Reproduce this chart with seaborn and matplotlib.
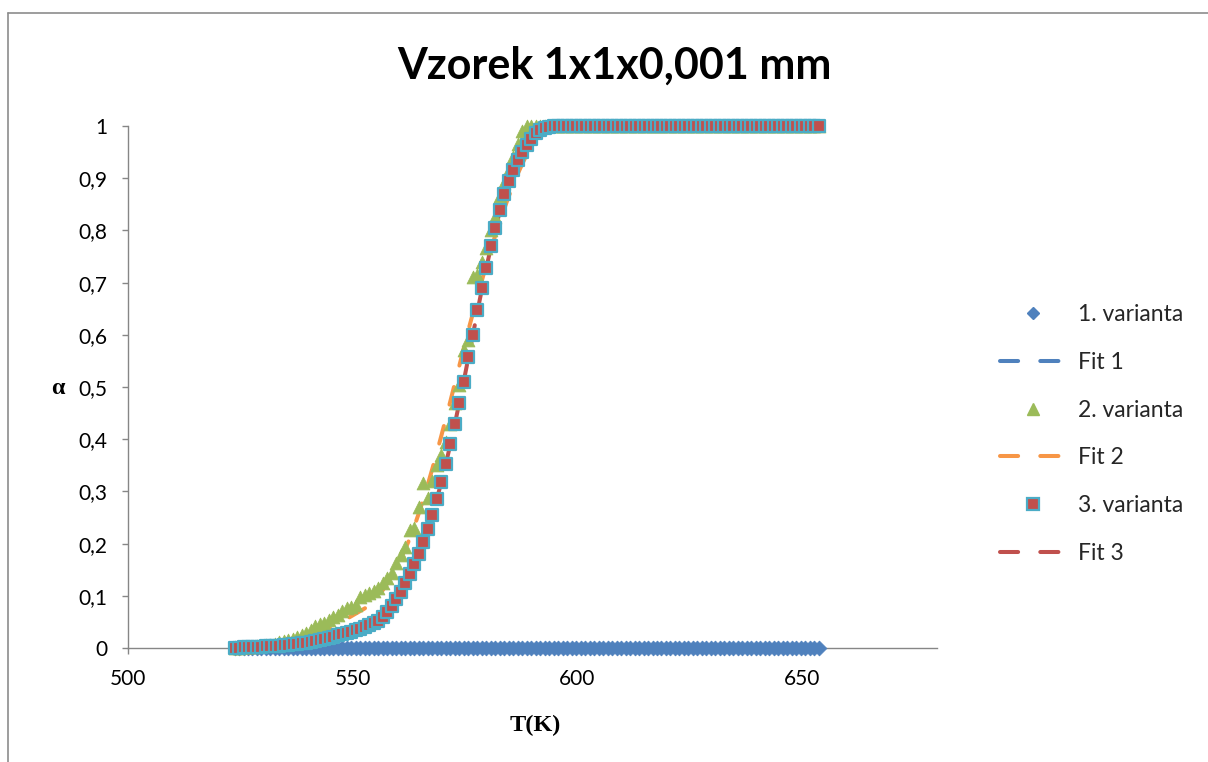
import matplotlib
matplotlib.use("Agg")
import matplotlib.pyplot as plt
from matplotlib.lines import Line2D
from matplotlib.ticker import FuncFormatter
import pandas as pd
import seaborn as sns

# ---------------- data ----------------
T_K = [
    523.7, 524.7, 525.7, 526.7, 527.7, 528.7, 529.7, 530.7, 531.7, 532.7,
    533.7, 534.7, 535.7, 536.7, 537.7, 538.7, 539.7, 540.7, 541.7, 542.7,
    543.7, 544.7, 545.7, 546.7, 547.7, 548.7, 549.7, 550.7, 551.7, 552.7,
    553.7, 554.7, 555.7, 556.7, 557.7, 558.7, 559.7, 560.7, 561.7, 562.7,
    563.7, 564.7, 565.7, 566.7, 567.7, 568.7, 569.7, 570.7, 571.7, 572.7,
    573.7, 574.7, 575.7, 576.7, 577.7, 578.7, 579.7, 580.7, 581.7, 582.7,
    583.7, 584.7, 585.7, 586.7, 587.7, 588.7, 589.7, 590.7, 591.7, 592.7,
    593.7, 594.7, 595.7, 596.7, 597.7, 598.7, 599.7, 600.7, 601.7, 602.7,
    603.7, 604.7, 605.7, 606.7, 607.7, 608.7, 609.7, 610.7, 611.7, 612.7,
    613.7, 614.7, 615.7, 616.7, 617.7, 618.7, 619.7, 620.7, 621.7, 622.7,
    623.7, 624.7, 625.7, 626.7, 627.7, 628.7, 629.7, 630.7, 631.7, 632.7,
    633.7, 634.7, 635.7, 636.7, 637.7, 638.7, 639.7, 640.7, 641.7, 642.7,
    643.7, 644.7, 645.7, 646.7, 647.7, 648.7, 649.7, 650.7, 651.7, 652.7,
    653.7,
]

alpha_var1 = [
    0, 0, 0, 0, 0, 0, 0, 0, 0, 0,
    0, 0, 0, 0, 0, 0, 0, 0, 0, 0,
    0, 0, 0, 0, 0, 0, 0, 0, 0, 0,
    0, 0, 0, 0, 0, 0, 0, 0, 0, 0,
    0, 0, 0, 0, 0, 0, 0, 0, 0, 0,
    0, 0, 0, 0, 0, 0, 0, 0, 0, 0,
    0, 0, 0, 0, 0, 0, 0, 0, 0, 0,
    0, 0, 0, 0, 0, 0, 0, 0, 0, 0,
    0, 0, 0, 0, 0, 0, 0, 0, 0, 0,
    0, 0, 0, 0, 0, 0, 0, 0, 0, 0,
    0, 0, 0, 0, 0, 0, 0, 0, 0, 0,
    0, 0, 0, 0, 0, 0, 0, 0, 0, 0,
    0, 0, 0, 0, 0, 0, 0, 0, 0, 0,
    0,
]

fit_1 = [
    0, 0, 0, 0, 0, 0, 0, 0, 0, 0,
    0, 0, 0, 0, 0, 0, 0, 0, 0, 0,
    0, 0, 0, 0, 0, 0, 0, 0, 0, 0,
    0, 0, 0, 0, 0, 0, 0, 0, 0, 0,
    0, 0, 0, 0, 0, 0, 0, 0, 0, 0,
    0, 0, 0, 0, 0, 0, 0, 0, 0, 0,
    0, 0, 0, 0, 0, 0, 0, 0, 0, 0,
    0, 0, 0, 0, 0, 0, 0, 0, 0, 0,
    0, 0, 0, 0, 0, 0, 0, 0, 0, 0,
    0, 0, 0, 0, 0, 0, 0, 0, 0, 0,
    0, 0, 0, 0, 0, 0, 0, 0, 0, 0,
    0, 0, 0, 0, 0, 0, 0, 0, 0, 0,
    0, 0, 0, 0, 0, 0, 0, 0, 0, 0,
    0,
]

alpha_var2 = [
    0.000, 0.000, 0.001, 0.001, 0.002, 0.003, 0.004, 0.005, 0.006, 0.008,
    0.011, 0.013, 0.015, 0.018, 0.021, 0.024, 0.028, 0.034, 0.042, 0.046,
    0.048, 0.054, 0.060, 0.064, 0.070, 0.076, 0.078, 0.082, 0.098, 0.101,
    0.105, 0.110, 0.114, 0.124, 0.134, 0.143, 0.162, 0.178, 0.194, 0.226,
    0.230, 0.271, 0.316, 0.287, 0.320, 0.351, 0.370, 0.395, 0.430, 0.469,
    0.504, 0.571, 0.590, 0.710, 0.715, 0.740, 0.766, 0.800, 0.826, 0.865,
    0.890, 0.915, 0.940, 0.965, 0.990, 1.000, 1.000, 1.000, 1.000, 1.000,
    1.000, 1.000, 1.000, 1.000, 1.000, 1.000, 1.000, 1.000, 1.000, 1.000,
    1.000, 1.000, 1.000, 1.000, 1.000, 1.000, 1.000, 1.000, 1.000, 1.000,
    1.000, 1.000, 1.000, 1.000, 1.000, 1.000, 1.000, 1.000, 1.000, 1.000,
    1.000, 1.000, 1.000, 1.000, 1.000, 1.000, 1.000, 1.000, 1.000, 1.000,
    1.000, 1.000, 1.000, 1.000, 1.000, 1.000, 1.000, 1.000, 1.000, 1.000,
    1.000, 1.000, 1.000, 1.000, 1.000, 1.000, 1.000, 1.000, 1.000, 1.000,
    1.000,
]

fit_2 = [
    0.000, 0.000, 0.001, 0.001, 0.002, 0.002, 0.003, 0.004, 0.005, 0.006,
    0.007, 0.009, 0.010, 0.012, 0.014, 0.016, 0.018, 0.021, 0.024, 0.027,
    0.031, 0.036, 0.041, 0.046, 0.051, 0.056, 0.061, 0.066, 0.071, 0.076,
    0.083, 0.091, 0.100, 0.111, 0.124, 0.139, 0.155, 0.172, 0.190, 0.210,
    0.233, 0.258, 0.285, 0.313, 0.343, 0.374, 0.406, 0.439, 0.472, 0.506,
    0.540, 0.574, 0.608, 0.640, 0.672, 0.703, 0.733, 0.762, 0.790, 0.816,
    0.841, 0.865, 0.887, 0.908, 0.927, 0.945, 0.961, 0.975, 0.986, 0.994,
    0.998, 1.000, 1.000, 1.000, 1.000, 1.000, 1.000, 1.000, 1.000, 1.000,
    1.000, 1.000, 1.000, 1.000, 1.000, 1.000, 1.000, 1.000, 1.000, 1.000,
    1.000, 1.000, 1.000, 1.000, 1.000, 1.000, 1.000, 1.000, 1.000, 1.000,
    1.000, 1.000, 1.000, 1.000, 1.000, 1.000, 1.000, 1.000, 1.000, 1.000,
    1.000, 1.000, 1.000, 1.000, 1.000, 1.000, 1.000, 1.000, 1.000, 1.000,
    1.000, 1.000, 1.000, 1.000, 1.000, 1.000, 1.000, 1.000, 1.000, 1.000,
    1.000,
]

alpha_var3 = [
    0.000, 0.000, 0.001, 0.001, 0.001, 0.002, 0.002, 0.003, 0.003, 0.004,
    0.004, 0.005, 0.006, 0.007, 0.008, 0.009, 0.010, 0.012, 0.013, 0.015,
    0.017, 0.019, 0.022, 0.024, 0.026, 0.028, 0.031, 0.034, 0.037, 0.040,
    0.044, 0.047, 0.051, 0.059, 0.069, 0.080, 0.094, 0.108, 0.124, 0.142,
    0.160, 0.180, 0.203, 0.228, 0.255, 0.285, 0.318, 0.352, 0.390, 0.430,
    0.470, 0.510, 0.557, 0.600, 0.648, 0.690, 0.728, 0.770, 0.805, 0.839,
    0.869, 0.895, 0.916, 0.934, 0.951, 0.964, 0.976, 0.986, 0.993, 0.997,
    0.999, 1.000, 1.000, 1.000, 1.000, 1.000, 1.000, 1.000, 1.000, 1.000,
    1.000, 1.000, 1.000, 1.000, 1.000, 1.000, 1.000, 1.000, 1.000, 1.000,
    1.000, 1.000, 1.000, 1.000, 1.000, 1.000, 1.000, 1.000, 1.000, 1.000,
    1.000, 1.000, 1.000, 1.000, 1.000, 1.000, 1.000, 1.000, 1.000, 1.000,
    1.000, 1.000, 1.000, 1.000, 1.000, 1.000, 1.000, 1.000, 1.000, 1.000,
    1.000, 1.000, 1.000, 1.000, 1.000, 1.000, 1.000, 1.000, 1.000, 1.000,
    1.000,
]

fit_3 = [
    0.000, 0.000, 0.000, 0.001, 0.001, 0.001, 0.002, 0.002, 0.003, 0.003,
    0.004, 0.005, 0.006, 0.007, 0.008, 0.009, 0.010, 0.012, 0.013, 0.015,
    0.017, 0.019, 0.021, 0.024, 0.026, 0.029, 0.032, 0.035, 0.039, 0.043,
    0.048, 0.053, 0.059, 0.066, 0.074, 0.083, 0.094, 0.107, 0.122, 0.139,
    0.158, 0.179, 0.202, 0.227, 0.255, 0.285, 0.317, 0.352, 0.389, 0.428,
    0.469, 0.511, 0.555, 0.599, 0.643, 0.686, 0.727, 0.766, 0.802, 0.835,
    0.865, 0.891, 0.914, 0.934, 0.951, 0.965, 0.977, 0.986, 0.993, 0.997,
    0.999, 1.000, 1.000, 1.000, 1.000, 1.000, 1.000, 1.000, 1.000, 1.000,
    1.000, 1.000, 1.000, 1.000, 1.000, 1.000, 1.000, 1.000, 1.000, 1.000,
    1.000, 1.000, 1.000, 1.000, 1.000, 1.000, 1.000, 1.000, 1.000, 1.000,
    1.000, 1.000, 1.000, 1.000, 1.000, 1.000, 1.000, 1.000, 1.000, 1.000,
    1.000, 1.000, 1.000, 1.000, 1.000, 1.000, 1.000, 1.000, 1.000, 1.000,
    1.000, 1.000, 1.000, 1.000, 1.000, 1.000, 1.000, 1.000, 1.000, 1.000,
    1.000,
]

title_text = "Vzorek 1x1x0,001 mm"
series_labels = ["1. varianta", "Fit 1", "2. varianta", "Fit 2", "3. varianta", "Fit 3"]
x_ticks = [500, 550, 600, 650]
y_ticks = [0, 0.1, 0.2, 0.3, 0.4, 0.5, 0.6, 0.7, 0.8, 0.9, 1.0]

# ---------------- style ----------------
sns.set_theme(style="white")
plt.rcParams["font.family"] = ["Lato", "DejaVu Sans"]

C_BLUE = "#4F81BD"
C_GREEN = "#9BBB59"
C_ORANGE = "#F79646"
C_RED = "#C0504D"
C_TEAL = "#4BACC6"
C_AXIS = "#868686"
DASH = (0, (4.5, 5.5))
LW = 2.9

W, H = 1208, 762
fig = plt.figure(figsize=(W / 100, H / 100), dpi=100)
fig.patch.set_facecolor("white")
ax = fig.add_axes([128 / W, 1 - 648 / H, (937 - 128) / W, (648 - 126) / H])

df = pd.DataFrame({
    "T": T_K, "v1": alpha_var1, "f1": fit_1,
    "v2": alpha_var2, "f2": fit_2, "v3": alpha_var3, "f3": fit_3,
})

# series 1
sns.scatterplot(data=df, x="T", y="v1", marker="D", s=56, color=C_BLUE,
                edgecolor=C_BLUE, linewidth=0.6, ax=ax, zorder=3, clip_on=False)
sns.lineplot(data=df, x="T", y="f1", color=C_BLUE, lw=LW, linestyle=DASH,
             dash_capstyle="round", ax=ax, zorder=2)
# series 2
sns.scatterplot(data=df, x="T", y="v2", marker="^", s=85, color=C_GREEN,
                edgecolor=C_GREEN, linewidth=0.6, ax=ax, zorder=3, clip_on=False)
sns.lineplot(data=df, x="T", y="f2", color=C_ORANGE, lw=LW, linestyle=DASH,
             dash_capstyle="round", ax=ax, zorder=2)
# series 3
sns.scatterplot(data=df, x="T", y="v3", marker="s", s=82, color=C_RED,
                edgecolor=C_TEAL, linewidth=1.6, ax=ax, zorder=3, clip_on=False)
sns.lineplot(data=df, x="T", y="f3", color=C_RED, lw=LW, linestyle=DASH,
             dash_capstyle="round", ax=ax, zorder=2)

ax.set_xlim(500, 680)
ax.set_ylim(0, 1)
ax.set_xticks(x_ticks)
ax.set_yticks(y_ticks)
ax.yaxis.set_major_formatter(FuncFormatter(
    lambda v, p: "0" if abs(v) < 1e-9 else ("1" if abs(v - 1) < 1e-9 else f"{v:.1f}".replace(".", ","))))
ax.set_xlabel("")
ax.set_ylabel("")
for side in ["top", "right"]:
    ax.spines[side].set_visible(False)
for side in ["left", "bottom"]:
    ax.spines[side].set_color(C_AXIS)
    ax.spines[side].set_linewidth(1.0)
ax.tick_params(axis="both", which="major", direction="out", length=4, width=1.0,
               color=C_AXIS, labelsize=15, labelcolor="black",
               bottom=True, left=True)
ax.tick_params(axis="x", pad=11)
ax.tick_params(axis="y", pad=11)

# titles and axis labels
fig.text(614 / W, 1 - 66 / H, title_text, ha="center", va="center",
         fontsize=31, fontweight="bold", color="black")
fig.text(535 / W, 1 - 725 / H, "T(K)", ha="center", va="center",
         fontsize=17.5, fontweight="bold", family="Liberation Serif", color="black")
fig.text(58 / W, 1 - 388 / H, "α", ha="center", va="center",
         fontsize=17.5, fontweight="bold", family="Liberation Serif", color="black")

# legend
handles = [
    Line2D([], [], marker="D", linestyle="none", markersize=6.5, color=C_BLUE,
           markeredgecolor=C_BLUE),
    Line2D([], [], color=C_BLUE, lw=LW, linestyle=DASH, dash_capstyle="round"),
    Line2D([], [], marker="^", linestyle="none", markersize=9, color=C_GREEN,
           markeredgecolor=C_GREEN),
    Line2D([], [], color=C_ORANGE, lw=LW, linestyle=DASH, dash_capstyle="round"),
    Line2D([], [], marker="s", linestyle="none", markersize=8, color=C_RED,
           markeredgecolor=C_TEAL, markeredgewidth=1.6),
    Line2D([], [], color=C_RED, lw=LW, linestyle=DASH, dash_capstyle="round"),
]
fig.legend(handles, series_labels, loc="upper left",
           bbox_to_anchor=(1000 / W, 1 - 304 / H), frameon=False,
           fontsize=16.5, handlelength=2.9, handletextpad=0.5,
           labelspacing=1.17, borderpad=0, borderaxespad=0)

# outer chart-area border (left and top edges visible)
fig.add_artist(Line2D([8 / W, 8 / W], [0, 1 - 13 / H], transform=fig.transFigure,
                      color="#8C8C8C", lw=1.2))
fig.add_artist(Line2D([8 / W, 1], [1 - 13 / H, 1 - 13 / H], transform=fig.transFigure,
                      color="#8C8C8C", lw=1.2))

fig.savefig("out.png", dpi=100, facecolor="white")
